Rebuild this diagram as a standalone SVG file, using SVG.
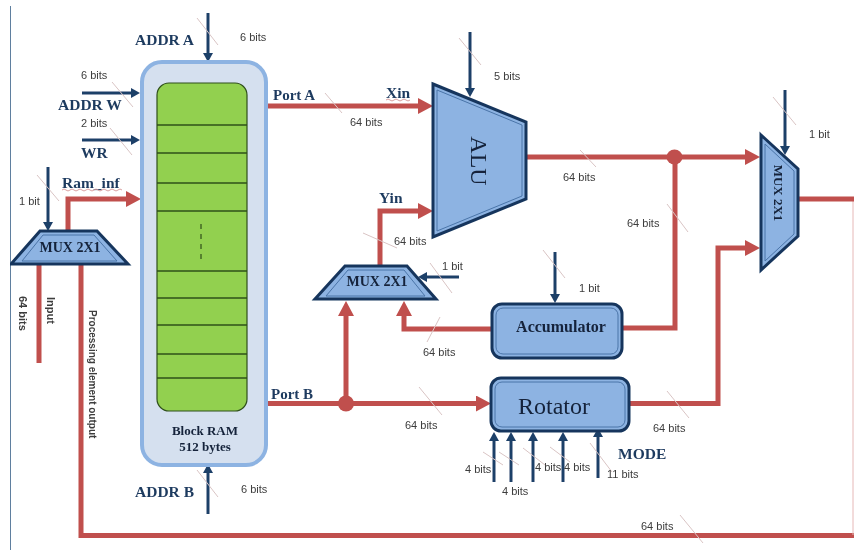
<svg xmlns="http://www.w3.org/2000/svg" width="854" height="550" viewBox="0 0 854 550">
<style>
.red{fill:none;stroke:#c0504d;stroke-width:5}
.redh{fill:none;stroke:#c0504d;stroke-width:5;marker-end:url(#ra)}
.nav{fill:none;stroke:#1f3f68;stroke-width:3;marker-end:url(#na)}
.sl{fill:none;stroke:#d9c4c4;stroke-width:1}
.sh{fill:#8db3e2;stroke:#17365d;stroke-width:3}
.in{fill:none;stroke:#4a74a8;stroke-width:1}
.div{stroke:#2f4f1a;stroke-width:1.3}
.b{font-family:"Liberation Serif",serif;font-weight:bold;fill:#1f3a5f;font-size:15.5px}
.k{font-family:"Liberation Serif",serif;font-weight:bold;fill:#14233a;font-size:14px}
.s{font-family:"Liberation Sans",sans-serif;fill:#3c3c3c;font-size:11px}
.m{text-anchor:middle}
.w{fill:none;stroke:#d9a0a0;stroke-width:1}
</style>
<defs>
<marker id="ra" markerUnits="userSpaceOnUse" markerWidth="16" markerHeight="16" refX="0" refY="8" orient="auto"><path d="M0,0L15,8L0,16Z" fill="#c0504d"/></marker>
<marker id="na" markerUnits="userSpaceOnUse" markerWidth="12" markerHeight="12" refX="0" refY="6" orient="auto"><path d="M0,1L9,6L0,11Z" fill="#1f3f68"/></marker>
<filter id="soft" x="0" y="0" width="100%" height="100%"><feGaussianBlur stdDeviation="0.45"/></filter>
</defs>
<rect width="854" height="550" fill="#fff"/>
<g filter="url(#soft)">
<path d="M10,6V550" stroke="#5f7f9f" stroke-width="2" fill="none"/>
<g id="connectors">
<path class="red" d="M39,264V363"/>
<path class="red" d="M81,264V535.5H854"/>
<path d="M853,199V535" stroke="#e6b8b7" stroke-width="1" fill="none"/>
<path class="redh" d="M68,231V199H126"/>
<path class="redh" d="M266,106H418"/>
<path class="redh" d="M380,266V211H418"/>
<path class="redh" d="M526,157H745"/>
<path class="red" d="M675,157V328H622"/>
<path class="red" d="M798,199H854"/>
<path class="redh" d="M628,403.500H718V248H745"/>
<path class="redh" d="M266,403.500H476"/>
<path class="redh" d="M346,403V316"/>
<path class="redh" d="M492,329H404V316"/>
<ellipse cx="346" cy="403.500" rx="8" ry="8" fill="#c0504d"/>
<ellipse cx="674.500" cy="157" rx="8" ry="7.500" fill="#c0504d"/>
<path class="nav" d="M208,13V53"/>
<path class="nav" d="M82,93H131"/>
<path class="nav" d="M82,140H131"/>
<path class="nav" d="M48,167V222"/>
<path class="nav" d="M208,514V473"/>
<path class="nav" d="M470,32V88"/>
<path class="nav" d="M785,90V146"/>
<path class="nav" d="M459,277H427"/>
<path class="nav" d="M555,252V294"/>
<path class="nav" d="M494,482V441"/>
<path class="nav" d="M511,482V441"/>
<path class="nav" d="M533,482V441"/>
<path class="nav" d="M563,482V441"/>
<path class="nav" d="M598,478V437"/>
<path class="sl" d="M197,18L218,45M112,82L133,107M110,128L132,155M37,175L59,201M197,470L218,497M325,93L342,113M459,38L481,65M363,233L397,248M430,263L452,293M543,250L565,278M440,317L427,342M419,387L442,415M483,452L503,465M499,452L519,465M523,448L545,465M550,447L570,462M590,443L612,472M667,391L689,418M680,515L703,543M580,150L596,167M667,204L688,232M773,97L796,125"/>
</g>
<g id="block-ram">
<rect x="142" y="62" width="124" height="403" rx="20" fill="#d5e0ef" stroke="#8db3e2" stroke-width="4"/>
<rect x="157" y="83" width="90" height="328" rx="12" fill="#92d050" stroke="#2f4f1a" stroke-width="1.200"/>
<path class="div" d="M157,125H247M157,153H247M157,183H247M157,211H247M157,271H247M157,298H247M157,325H247M157,354H247M157,378H247"/>
<path d="M201,224V260" stroke="#2f4f1a" stroke-width="1.200" stroke-dasharray="5 5" fill="none"/>
<text class="k m" x="205" y="435" style="font-size:13px">Block RAM</text>
<text class="k m" x="205" y="451" style="font-size:13px">512 bytes</text>
</g>
<g id="mux-left">
<path class="sh" d="M11,264H128L97,231H40Z"/>
<path class="in" d="M22,261H117L94,235H43Z"/>
<text class="k m" x="70" y="252">MUX 2X1</text>
</g>
<g id="mux-mid">
<path class="sh" d="M315,299H436L407,266H345Z"/>
<path class="in" d="M326,296H425L404,270H348Z"/>
<text class="k m" x="377" y="286">MUX 2X1</text>
</g>
<g id="alu">
<path class="sh" d="M433,84L526,122V199L433,237Z"/>
<path class="in" d="M437,90L522,125V196L437,231Z"/>
<text class="m" transform="translate(471,161) rotate(90)" font-family="Liberation Serif, serif" font-size="24" fill="#14233a">ALU</text>
</g>
<g id="mux-right">
<path class="sh" d="M761,135L798,169V236L761,270Z"/>
<path class="in" d="M765,144L794,171V234L765,261Z"/>
<text class="k m" transform="translate(774,193) rotate(90)" style="font-size:13px">MUX 2X1</text>
</g>
<g id="accumulator">
<rect x="492" y="304" width="130" height="54" rx="10" class="sh"/>
<rect x="496" y="308" width="122" height="46" rx="7" class="in"/>
<text class="k m" x="561" y="332" style="font-size:16px">Accumulator</text>
</g>
<g id="rotator">
<rect x="491" y="378" width="138" height="53" rx="10" class="sh"/>
<rect x="495" y="382" width="130" height="45" rx="7" class="in"/>
<text class="m" x="554" y="414" font-family="Liberation Serif, serif" font-size="24" fill="#14233a">Rotator</text>
</g>
<g id="labels">
<text class="b" x="135" y="45">ADDR A</text>
<text class="b" x="135" y="497">ADDR B</text>
<text class="b" x="58" y="110">ADDR W</text>
<text class="b" x="81" y="158">WR</text>
<text class="b" x="62" y="188">Ram_inf</text>
<path class="w" d="M62,190q2,-2 4,0t4,0t4,0t4,0t4,0t4,0t4,0t4,0t4,0t4,0t4,0t4,0t4,0t4,0t4,0"/>
<text class="b" x="273" y="100" style="font-size:15px">Port A</text>
<text class="b" x="271" y="399" style="font-size:15px">Port B</text>
<text class="b" x="386" y="98">Xin</text>
<path class="w" d="M386,100q2,-2 4,0t4,0t4,0t4,0t4,0t4,0"/>
<text class="b" x="379" y="203">Yin</text>
<text class="b" x="618" y="459">MODE</text>
<text class="s" x="240" y="41">6 bits</text>
<text class="s" x="81" y="79">6 bits</text>
<text class="s" x="81" y="127">2 bits</text>
<text class="s" x="19" y="205">1 bit</text>
<text class="s" x="241" y="493">6 bits</text>
<text class="s" x="350" y="126">64 bits</text>
<text class="s" x="494" y="80">5 bits</text>
<text class="s" x="394" y="245">64 bits</text>
<text class="s" x="442" y="270">1 bit</text>
<text class="s" x="563" y="181">64 bits</text>
<text class="s" x="627" y="227">64 bits</text>
<text class="s" x="579" y="292">1 bit</text>
<text class="s" x="809" y="138">1 bit</text>
<text class="s" x="423" y="356">64 bits</text>
<text class="s" x="405" y="429">64 bits</text>
<text class="s" x="653" y="432">64 bits</text>
<text class="s" x="465" y="473">4 bits</text>
<text class="s" x="502" y="495">4 bits</text>
<text class="s" x="535" y="471">4 bits</text>
<text class="s" x="564" y="471">4 bits</text>
<text class="s" x="607" y="478">11 bits</text>
<text class="s" x="641" y="530">64 bits</text>
<text class="s" transform="translate(19,296) rotate(90)" style="font-weight:bold">64 bits</text>
<text class="s" transform="translate(47,297) rotate(90)" style="font-weight:bold">Input</text>
<text class="s" transform="translate(89,310) rotate(90)" style="font-weight:bold;font-size:10px">Processing element output</text>
</g>
</g>
</svg>
